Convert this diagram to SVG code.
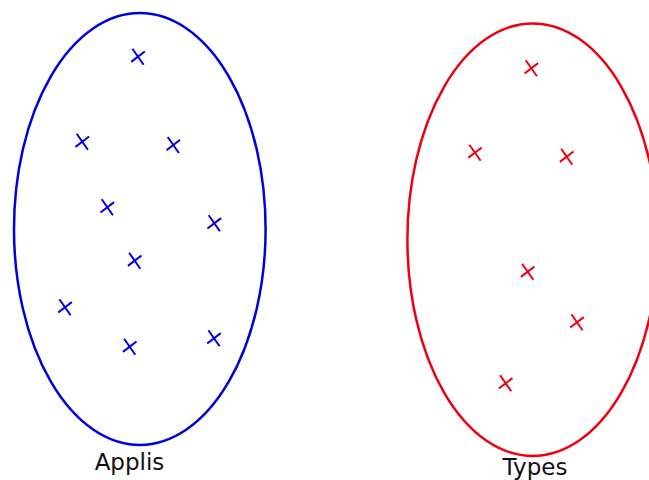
<svg xmlns="http://www.w3.org/2000/svg" xmlns:xlink="http://www.w3.org/1999/xlink" width="649" height="480" viewBox="0 0 649 480">
  <style>
    .set { fill: none; stroke-width: 2.5; }
    .blue { stroke: #0000dd; }
    .red { stroke: #ee0011; }
    .mark { fill: none; stroke-width: 2; }
    .label { font-family: "DejaVu Sans", sans-serif; font-size: 23px; fill: #111; text-anchor: middle; }
  </style>
  <defs>
    <!-- slanted cross marker -->
    <path id="x" d="M-5.6,-8 L5.6,8 M-6.8,5.2 L6.8,-5.2"/>
  </defs>
  <rect width="649" height="480" fill="#fff"/>

  <g id="applis">
    <ellipse class="set blue" cx="139.8" cy="229" rx="125.8" ry="216"/>
    <g class="mark blue">
      <use xlink:href="#x" x="138" y="56.7"/>
      <use xlink:href="#x" x="82.3" y="141.7"/>
      <use xlink:href="#x" x="173.3" y="145"/>
      <use xlink:href="#x" x="107.3" y="207.3"/>
      <use xlink:href="#x" x="214.3" y="223.3"/>
      <use xlink:href="#x" x="134.7" y="260.7"/>
      <use xlink:href="#x" x="65" y="307.3"/>
      <use xlink:href="#x" x="129.7" y="346.7"/>
      <use xlink:href="#x" x="214" y="338.3"/>
    </g>
    <text class="label" x="129.5" y="470">Applis</text>
  </g>

  <g id="types">
    <ellipse class="set red" cx="532.7" cy="239.7" rx="125.3" ry="216.3"/>
    <g class="mark red">
      <use xlink:href="#x" x="531.3" y="68.3"/>
      <use xlink:href="#x" x="475" y="152.7"/>
      <use xlink:href="#x" x="566.7" y="156.7"/>
      <use xlink:href="#x" x="527.7" y="271.7"/>
      <use xlink:href="#x" x="577" y="322.3"/>
      <use xlink:href="#x" x="505.7" y="383.3"/>
    </g>
    <text class="label" x="535" y="475">Types</text>
  </g>

  <g id="connectors"/>
</svg>
